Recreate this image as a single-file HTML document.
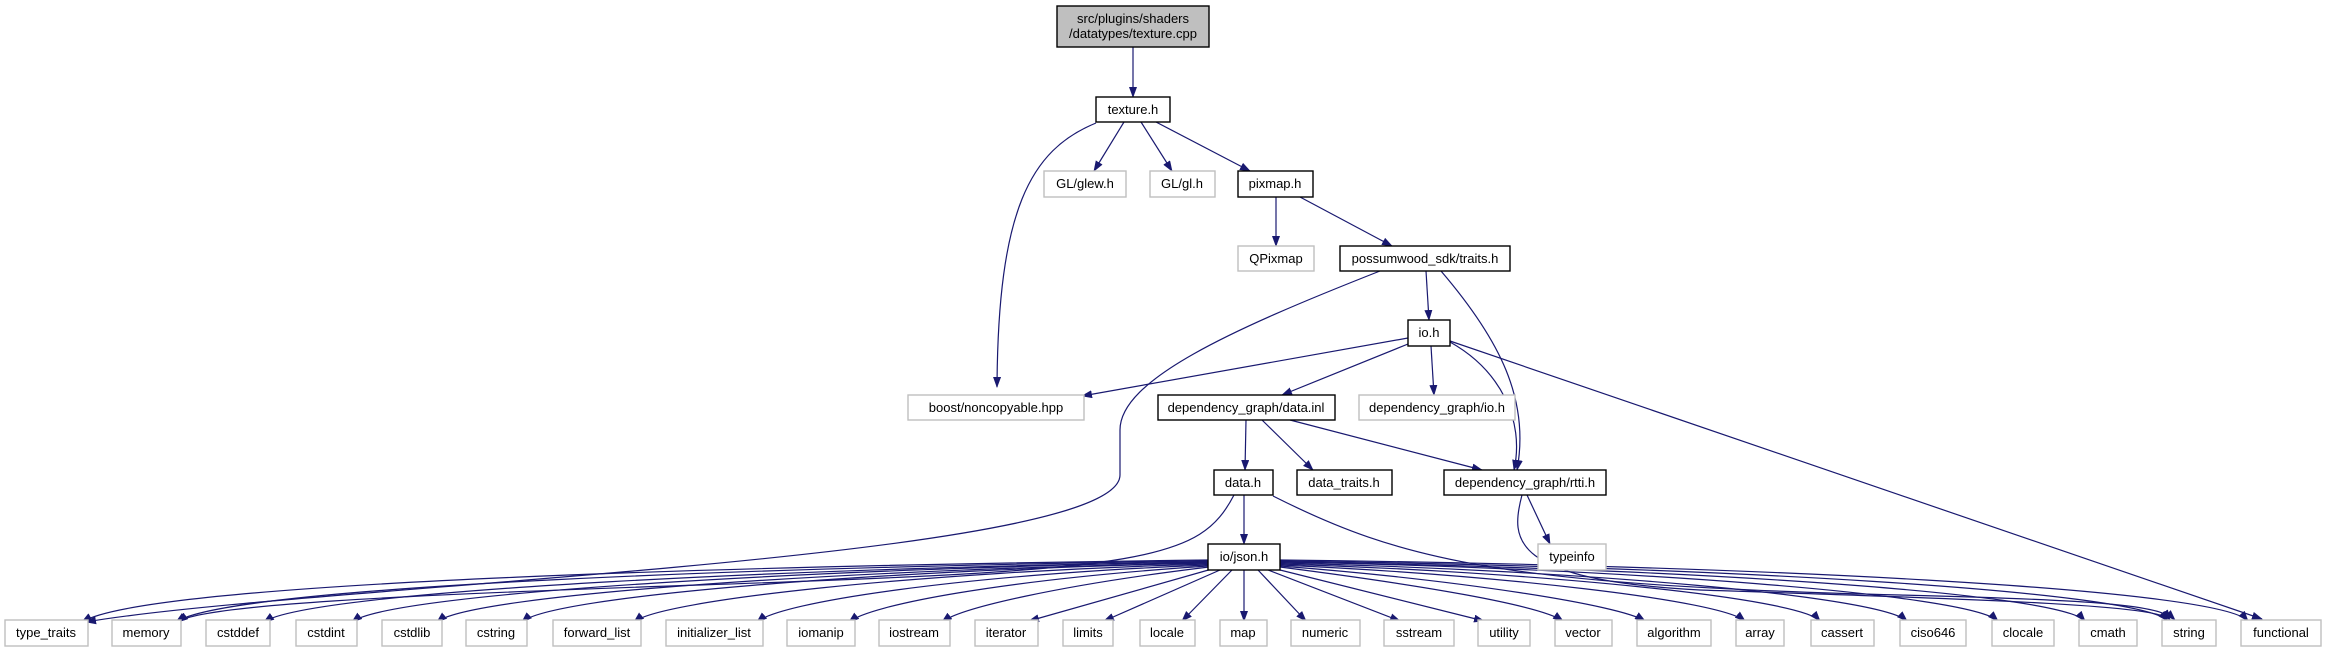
<!DOCTYPE html>
<html><head><meta charset="utf-8"><style>
html,body{margin:0;padding:0;background:#fff;}
svg{display:block;}
text{font-family:"Liberation Sans",Arial,sans-serif;font-size:13px;fill:#000;text-anchor:middle;}
.b{fill:#fff;stroke:#000;stroke-width:1.4;}
.g{fill:#fff;stroke:#bfbfbf;stroke-width:1.4;}
.e{fill:none;stroke:#191970;stroke-width:1.2;marker-end:url(#a);}
</style></head><body>
<svg width="2325" height="651" viewBox="0 0 2325 651" xmlns="http://www.w3.org/2000/svg">
<defs><marker id="a" markerUnits="userSpaceOnUse" markerWidth="11" markerHeight="8" refX="10" refY="4" orient="auto"><path d="M0,0 L11,4 L0,8 z" fill="#191970"/></marker></defs>

<!-- edges -->
<path class="e" d="M1133,47 L1133,97"/>
<path class="e" d="M1124,122 L1094,171"/>
<path class="e" d="M1141,122 L1172,171"/>
<path class="e" d="M1156,122 L1250,171"/>
<path class="e" d="M1096,123 C1030,150 998,210 997,387"/>
<path class="e" d="M1276,197 L1276,246"/>
<path class="e" d="M1300,197 L1392,246"/>
<path class="e" d="M1426,271 L1429,320"/>
<path class="e" d="M1441,271 C1500,340 1530,400 1517,470"/>
<path class="e" d="M1380,271 C1230,330 1120,380 1120,430 L1120,475 C1120,560 300,585 86,622"/>
<path class="e" d="M1408,338 L1082,396"/>
<path class="e" d="M1408,344 L1282,395"/>
<path class="e" d="M1431,346 L1434,395"/>
<path class="e" d="M1450,342 C1500,370 1525,420 1514,470"/>
<path class="e" d="M1450,341 L2262,619"/>
<path class="e" d="M1246,420 L1245,470"/>
<path class="e" d="M1262,420 L1313,470"/>
<path class="e" d="M1290,420 L1482,470"/>
<path class="e" d="M1244,495 L1244,544"/>
<path class="e" d="M1234,495 C1200,560 1150,570 700,585 C400,595 200,605 178,622"/>
<path class="e" d="M1273,496 C1400,560 1500,585 1900,595 C2100,600 2160,605 2175,620"/>
<path class="e" d="M1522,495 C1510,540 1510,580 1700,590 C2000,600 2160,605 2170,620"/>
<path class="e" d="M1527,495 L1550,544"/>

<!-- json edges -->
<path class="e" d="M1208,560 C800,565 150,580 82,622"/>
<path class="e" d="M1208,561 C800,566 230,585 176,622"/>
<path class="e" d="M1208,562 C820,567 310,590 264,622"/>
<path class="e" d="M1208,562 C840,568 390,592 352,622"/>
<path class="e" d="M1208,563 C860,569 470,594 437,622"/>
<path class="e" d="M1208,563 C880,570 550,596 522,622"/>
<path class="e" d="M1208,564 C920,572 660,600 634,622"/>
<path class="e" d="M1208,565 C960,575 780,602 757,622"/>
<path class="e" d="M1208,566 C1000,580 870,605 849,622"/>
<path class="e" d="M1209,567 C1060,585 960,608 942,622"/>
<path class="e" d="M1212,569 L1029,621"/>
<path class="e" d="M1220,570 L1104,621"/>
<path class="e" d="M1232,570 L1182,621"/>
<path class="e" d="M1244,570 L1244,621"/>
<path class="e" d="M1258,570 L1306,621"/>
<path class="e" d="M1268,570 L1400,621"/>
<path class="e" d="M1276,569 L1484,621"/>
<path class="e" d="M1280,567 C1420,585 1540,605 1563,621"/>
<path class="e" d="M1280,566 C1460,580 1620,605 1645,621"/>
<path class="e" d="M1280,565 C1500,575 1720,600 1745,621"/>
<path class="e" d="M1280,564 C1540,572 1800,598 1820,621"/>
<path class="e" d="M1280,563 C1580,570 1880,596 1907,621"/>
<path class="e" d="M1280,562 C1620,568 1970,594 1998,621"/>
<path class="e" d="M1280,562 C1660,567 2060,592 2085,621"/>
<path class="e" d="M1280,561 C1700,566 2140,590 2168,621"/>
<path class="e" d="M1280,560 C1740,565 2220,588 2248,621"/>

<!-- nodes -->
<rect x="1057" y="6" width="152" height="41" fill="#bfbfbf" stroke="#000" stroke-width="1.4"/>
<text x="1133" y="23">src/plugins/shaders</text><text x="1133" y="38">/datatypes/texture.cpp</text>

<rect class="b" x="1096" y="97" width="74" height="25"/><text x="1133" y="114">texture.h</text>
<rect class="g" x="1044" y="171" width="82" height="26"/><text x="1085" y="188">GL/glew.h</text>
<rect class="g" x="1150" y="171" width="65" height="26"/><text x="1182" y="188">GL/gl.h</text>
<rect class="b" x="1238" y="171" width="75" height="26"/><text x="1275" y="188">pixmap.h</text>
<rect class="g" x="1238" y="246" width="76" height="25"/><text x="1276" y="263">QPixmap</text>
<rect class="b" x="1340" y="246" width="170" height="25"/><text x="1425" y="263">possumwood_sdk/traits.h</text>
<rect class="b" x="1408" y="320" width="42" height="26"/><text x="1429" y="337">io.h</text>
<rect class="g" x="908" y="395" width="176" height="25"/><text x="996" y="412">boost/noncopyable.hpp</text>
<rect class="b" x="1158" y="395" width="177" height="25"/><text x="1246" y="412">dependency_graph/data.inl</text>
<rect class="g" x="1359" y="395" width="156" height="25"/><text x="1437" y="412">dependency_graph/io.h</text>
<rect class="b" x="1214" y="470" width="59" height="25"/><text x="1243" y="487">data.h</text>
<rect class="b" x="1297" y="470" width="95" height="25"/><text x="1344" y="487">data_traits.h</text>
<rect class="b" x="1444" y="470" width="162" height="25"/><text x="1525" y="487">dependency_graph/rtti.h</text>
<rect class="b" x="1208" y="544" width="72" height="26"/><text x="1244" y="561">io/json.h</text>
<rect class="g" x="1538" y="544" width="68" height="26"/><text x="1572" y="561">typeinfo</text>

<g>
<rect class="g" x="5" y="620" width="83" height="26"/><text x="46" y="637">type_traits</text>
<rect class="g" x="112" y="620" width="69" height="26"/><text x="146" y="637">memory</text>
<rect class="g" x="206" y="620" width="64" height="26"/><text x="238" y="637">cstddef</text>
<rect class="g" x="296" y="620" width="61" height="26"/><text x="326" y="637">cstdint</text>
<rect class="g" x="382" y="620" width="60" height="26"/><text x="412" y="637">cstdlib</text>
<rect class="g" x="466" y="620" width="61" height="26"/><text x="496" y="637">cstring</text>
<rect class="g" x="553" y="620" width="88" height="26"/><text x="597" y="637">forward_list</text>
<rect class="g" x="666" y="620" width="97" height="26"/><text x="714" y="637">initializer_list</text>
<rect class="g" x="787" y="620" width="68" height="26"/><text x="821" y="637">iomanip</text>
<rect class="g" x="879" y="620" width="71" height="26"/><text x="914" y="637">iostream</text>
<rect class="g" x="975" y="620" width="63" height="26"/><text x="1006" y="637">iterator</text>
<rect class="g" x="1063" y="620" width="50" height="26"/><text x="1088" y="637">limits</text>
<rect class="g" x="1140" y="620" width="55" height="26"/><text x="1167" y="637">locale</text>
<rect class="g" x="1220" y="620" width="47" height="26"/><text x="1243" y="637">map</text>
<rect class="g" x="1291" y="620" width="69" height="26"/><text x="1325" y="637">numeric</text>
<rect class="g" x="1384" y="620" width="70" height="26"/><text x="1419" y="637">sstream</text>
<rect class="g" x="1478" y="620" width="52" height="26"/><text x="1504" y="637">utility</text>
<rect class="g" x="1555" y="620" width="57" height="26"/><text x="1583" y="637">vector</text>
<rect class="g" x="1637" y="620" width="74" height="26"/><text x="1674" y="637">algorithm</text>
<rect class="g" x="1736" y="620" width="48" height="26"/><text x="1760" y="637">array</text>
<rect class="g" x="1811" y="620" width="63" height="26"/><text x="1842" y="637">cassert</text>
<rect class="g" x="1900" y="620" width="66" height="26"/><text x="1933" y="637">ciso646</text>
<rect class="g" x="1992" y="620" width="62" height="26"/><text x="2023" y="637">clocale</text>
<rect class="g" x="2079" y="620" width="58" height="26"/><text x="2108" y="637">cmath</text>
<rect class="g" x="2162" y="620" width="54" height="26"/><text x="2189" y="637">string</text>
<rect class="g" x="2241" y="620" width="80" height="26"/><text x="2281" y="637">functional</text>
</g>
</svg>
</body></html>
